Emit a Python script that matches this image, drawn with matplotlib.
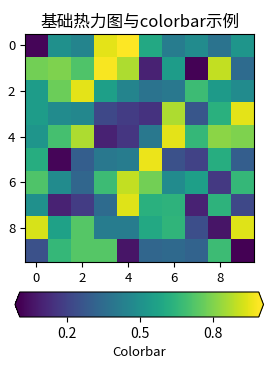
import matplotlib
matplotlib.use("Agg")
import matplotlib.pyplot as plt
import numpy as np

plt.rcParams['font.family'] = ['Noto Sans CJK SC', 'DejaVu Sans']
plt.rcParams['axes.unicode_minus'] = False

title = "基础热力图与colorbar示例"
cbar_label = "Colorbar"

row0 = [0.02, 0.50, 0.45, 0.95, 0.99, 0.60, 0.42, 0.48, 0.38, 0.52]
row1 = [0.78, 0.80, 0.72, 0.98, 0.87, 0.10, 0.55, 0.01, 0.90, 0.35]
row2 = [0.55, 0.77, 0.95, 0.56, 0.45, 0.38, 0.40, 0.68, 0.54, 0.48]
row3 = [0.55, 0.48, 0.46, 0.22, 0.18, 0.15, 0.87, 0.27, 0.63, 0.95]
row4 = [0.52, 0.70, 0.87, 0.10, 0.16, 0.40, 0.95, 0.66, 0.82, 0.80]
row5 = [0.62, 0.02, 0.30, 0.40, 0.42, 0.96, 0.25, 0.20, 0.62, 0.30]
row6 = [0.72, 0.48, 0.33, 0.68, 0.90, 0.78, 0.48, 0.56, 0.17, 0.66]
row7 = [0.50, 0.10, 0.18, 0.35, 0.94, 0.63, 0.64, 0.10, 0.64, 0.22]
row8 = [0.93, 0.57, 0.73, 0.42, 0.42, 0.60, 0.65, 0.24, 0.06, 0.94]
row9 = [0.25, 0.66, 0.73, 0.73, 0.06, 0.33, 0.34, 0.32, 0.68, 0.005]

data = np.array([row0, row1, row2, row3, row4, row5, row6, row7, row8, row9])
cbar_ticks = [0.2, 0.5, 0.8]

W, H = 271, 366
fig = plt.figure(figsize=(W / 100, H / 100), dpi=100)
ax = fig.add_axes([25 / W, 1 - 262 / H, 229 / W, 228 / H])
im = ax.imshow(data, cmap='viridis', aspect='auto')
ax.set_title(title, fontsize=12, pad=5)
ax.tick_params(labelsize=9.5)

cax = fig.add_axes([15 / W, 1 - 317 / H, 248.5 / W, 25 / H])
cb = fig.colorbar(im, cax=cax, orientation='horizontal', extend='both',
                  extendfrac=0.02)
cb.set_ticks(cbar_ticks)
cb.ax.tick_params(labelsize=10)
cb.set_label(cbar_label, fontsize=9.5)

fig.savefig("out.png", dpi=100)
